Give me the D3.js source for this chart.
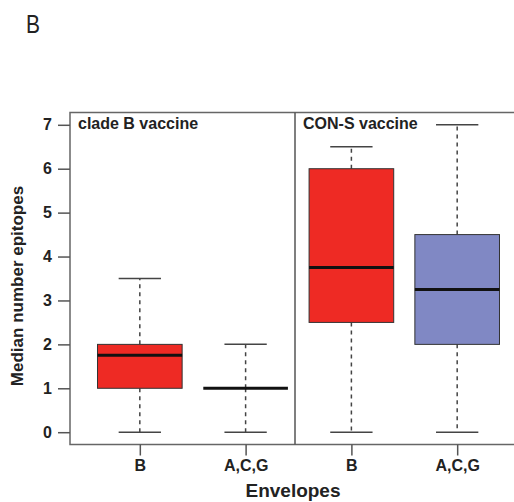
<!DOCTYPE html>
<html>
<head>
<meta charset="utf-8">
<script src="https://cdn.jsdelivr.net/npm/d3@7"></script>
<style>
  body { margin: 0; background: #fff; }
  svg { display: block; }
  text { font-family: "Liberation Sans", Arial, sans-serif; }
</style>
</head>
<body>
<svg id="chart"></svg>
<script>
// svg size
const width = 514;
const height = 502;

// data
const envelopes = ["B", "A,C,G", "B", "A,C,G"];
const panels = ["clade B vaccine", "CON-S vaccine"];
const whiskerLow = [0, 0, 0, 0];
const q1 = [1, 1, 2.5, 2];
const medians = [1.75, 1, 3.75, 3.25];
const q3 = [2, 1, 6, 4.5];
const whiskerHigh = [3.5, 2, 6.5, 7];
const boxColors = ["#ee2a24", "#8088c4", "#ee2a24", "#8088c4"];
const yTicks = [0, 1, 2, 3, 4, 5, 6, 7];

const svg = d3.select("#chart")
    .attr("width", width)
    .attr("height", height);

// scales (R style 4% padding)
const x = d3.scaleLinear().domain([0.34, 4.66]).range([70, 527]);
const y = d3.scaleLinear().domain([-0.28, 7.28]).range([444.5, 112.5]);
const unit = x(2) - x(1);
const boxW = unit * 0.8;
const capW = boxW * 0.5;

// panel letter
svg.append("text")
    .attr("x", 26)
    .attr("y", 33)
    .attr("font-family", "'Open Sans', sans-serif")
    .attr("font-size", 26)
    .attr("textLength", 14)
    .attr("lengthAdjust", "spacingAndGlyphs")
    .attr("fill", "#222")
    .text("B");

// frame
svg.append("rect")
    .attr("x", 70)
    .attr("y", 112.5)
    .attr("width", 457)
    .attr("height", 332)
    .attr("fill", "none")
    .attr("stroke", "#666")
    .attr("stroke-width", 1.5);

// panel divider
svg.append("line")
    .attr("x1", 295).attr("x2", 295)
    .attr("y1", y(-0.28)).attr("y2", y(7.28))
    .attr("stroke", "#555")
    .attr("stroke-width", 1.5);

// panel titles
svg.selectAll("text.panel")
    .data(panels)
    .enter()
    .append("text")
    .attr("class", "panel")
    .attr("x", (d, i) => i === 0 ? 78 : 303)
    .attr("y", 129)
    .attr("font-size", 16)
    .attr("font-weight", "bold")
    .attr("fill", "#222")
    .text(d => d);

// y axis
const yAxis = d3.axisLeft(y)
    .tickValues(yTicks)
    .tickSize(12)
    .tickPadding(6)
    .tickFormat(d3.format("d"));

const yg = svg.append("g")
    .attr("transform", "translate(70,0)")
    .call(yAxis);
yg.select(".domain").remove();
yg.selectAll("line").attr("stroke", "#555").attr("stroke-width", 1.5);
yg.selectAll("text")
    .attr("font-size", 16)
    .attr("font-weight", "bold")
    .attr("font-family", "'Liberation Sans', Arial, sans-serif")
    .attr("fill", "#222");

// x axis
const xAxis = d3.axisBottom(x)
    .tickValues([1, 2, 3, 4])
    .tickSize(11)
    .tickPadding(4)
    .tickFormat((d, i) => envelopes[i]);

const xg = svg.append("g")
    .attr("transform", "translate(0,444.5)")
    .call(xAxis);
xg.select(".domain").remove();
xg.selectAll("line").attr("stroke", "#555").attr("stroke-width", 1.5);
xg.selectAll("text")
    .attr("font-size", 16)
    .attr("font-weight", "bold")
    .attr("font-family", "'Liberation Sans', Arial, sans-serif")
    .attr("fill", "#222");

// boxes
const idx = d3.range(envelopes.length);
const box = svg.selectAll("g.box")
    .data(idx)
    .enter()
    .append("g")
    .attr("class", "box");

// dashed whiskers
box.append("line")
    .attr("x1", i => x(i + 1)).attr("x2", i => x(i + 1))
    .attr("y1", i => y(q3[i])).attr("y2", i => y(whiskerHigh[i]))
    .attr("stroke", "#444").attr("stroke-width", 1.5)
    .attr("stroke-dasharray", "4,4");
box.append("line")
    .attr("x1", i => x(i + 1)).attr("x2", i => x(i + 1))
    .attr("y1", i => y(q1[i])).attr("y2", i => y(whiskerLow[i]))
    .attr("stroke", "#444").attr("stroke-width", 1.5)
    .attr("stroke-dasharray", "4,4");

// caps
[whiskerLow, whiskerHigh].forEach(arr => {
    box.append("line")
        .attr("x1", i => x(i + 1) - capW / 2).attr("x2", i => x(i + 1) + capW / 2)
        .attr("y1", i => y(arr[i])).attr("y2", i => y(arr[i]))
        .attr("stroke", "#444").attr("stroke-width", 1.5);
});

// box body
box.append("rect")
    .attr("x", i => x(i + 1) - boxW / 2)
    .attr("y", i => y(q3[i]))
    .attr("width", boxW)
    .attr("height", i => y(q1[i]) - y(q3[i]))
    .attr("fill", i => boxColors[i])
    .attr("stroke", "#333")
    .attr("stroke-width", 1);

// median
box.append("line")
    .attr("x1", i => x(i + 1) - boxW / 2).attr("x2", i => x(i + 1) + boxW / 2)
    .attr("y1", i => y(medians[i])).attr("y2", i => y(medians[i]))
    .attr("stroke", "#111").attr("stroke-width", 3);

// axis titles
svg.append("text")
    .attr("x", 293)
    .attr("y", 497)
    .attr("text-anchor", "middle")
    .attr("font-size", 19)
    .attr("font-weight", "bold")
    .attr("fill", "#222")
    .text("Envelopes");

svg.append("text")
    .attr("transform", "translate(23,286) rotate(-90)")
    .attr("text-anchor", "middle")
    .attr("font-size", 17)
    .attr("font-weight", "bold")
    .attr("fill", "#222")
    .text("Median number epitopes");
</script>
</body>
</html>
